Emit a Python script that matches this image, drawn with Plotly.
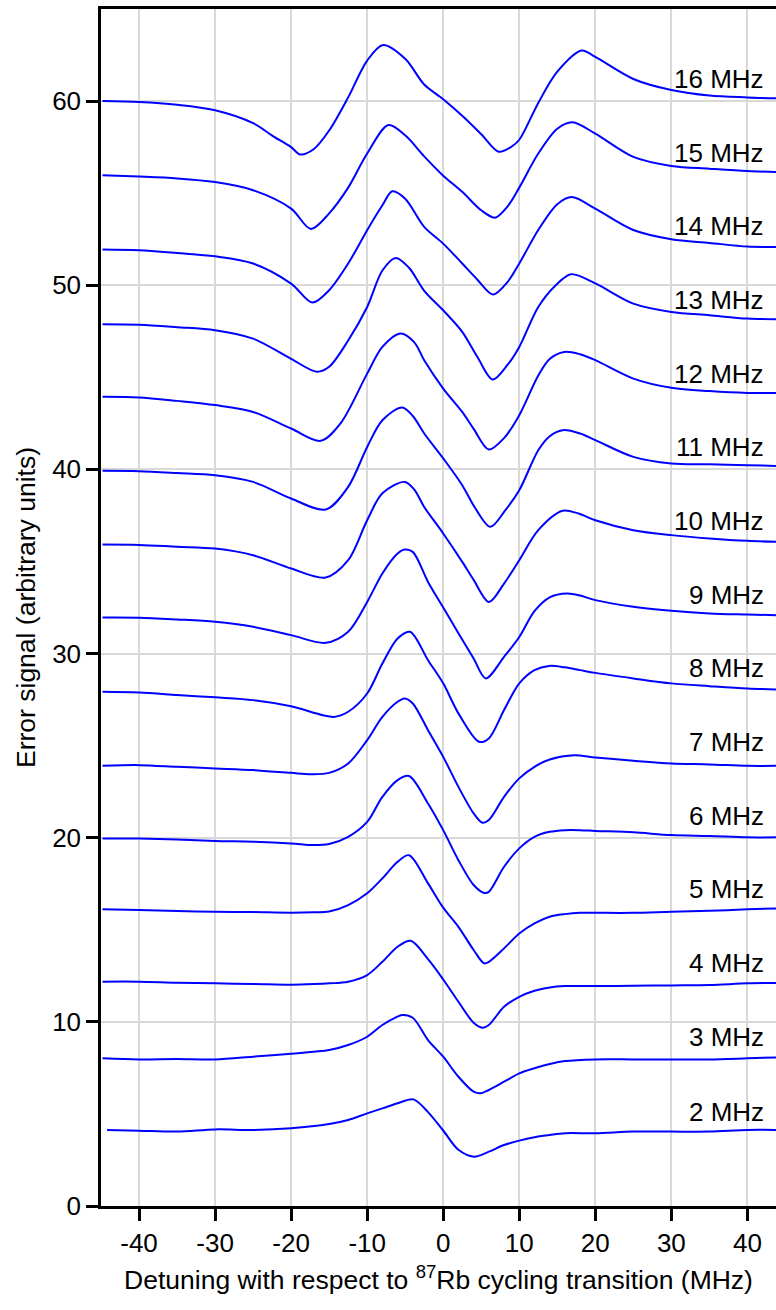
import plotly.graph_objects as go

# ---- data (detuning in MHz, error signal offset per trace) ----
labels = ["2 MHz", "3 MHz", "4 MHz", "5 MHz", "6 MHz", "7 MHz", "8 MHz", "9 MHz",
          "10 MHz", "11 MHz", "12 MHz", "13 MHz", "14 MHz", "15 MHz", "16 MHz"]
label_y = [5.1, 9.2, 13.2, 17.2, 21.2, 25.2, 29.2, 33.2, 37.2, 41.2, 45.2, 49.2, 53.2, 57.2, 61.2]

x2 = [-44.2, -40, -35, -30, -25, -20, -15, -12.5, -10, -8, -6, -3.92, -2, 0, 2, 4.05, 6, 8, 10, 12, 14, 16, 20, 25, 30, 35, 40, 43.8]
y2 = [4.13, 4.09, 4.04, 4.16, 4.13, 4.22, 4.45, 4.67, 5.03, 5.3, 5.58, 5.79, 5.1, 4.1, 3.05, 2.68, 2.95, 3.31, 3.55, 3.73, 3.85, 3.95, 3.95, 4.04, 4.04, 4.04, 4.13, 4.13]

x3 = [-44.8, -40, -35, -30, -25, -20, -15, -12.5, -10, -8, -6, -5.37, -4, -2, 0, 2, 4, 4.93, 6, 8, 10, 12, 14, 16, 20, 25, 30, 35, 40, 43.8]
y3 = [8.02, 7.96, 7.98, 7.96, 8.11, 8.27, 8.47, 8.74, 9.19, 9.83, 10.28, 10.37, 10.22, 9.01, 8.11, 7.02, 6.21, 6.12, 6.3, 6.75, 7.2, 7.48, 7.71, 7.87, 7.96, 7.96, 7.96, 7.96, 8.02, 8.07]

x4 = [-44.8, -40, -35, -30, -25, -20, -17, -15, -12.5, -10, -8, -6, -4.27, -2, 0, 2, 4, 5.15, 6, 8, 10, 12, 14, 16, 20, 25, 30, 35, 40, 43.8]
y4 = [12.18, 12.18, 12.12, 12.09, 12.06, 12.02, 12.05, 12.09, 12.18, 12.54, 13.26, 14.08, 14.4, 13.4, 12.3, 11.09, 9.95, 9.68, 9.83, 10.82, 11.36, 11.69, 11.87, 11.94, 11.94, 11.96, 11.98, 12.0, 12.09, 12.11]

x5 = [-44.8, -40, -35, -30, -25, -20, -17, -15, -12.5, -10, -8, -6, -4.5, -2, 0, 2, 4, 5.37, 6, 8, 10, 12, 14, 16, 18, 20, 25, 30, 35, 40, 43.8]
y5 = [16.11, 16.07, 16.02, 15.98, 15.96, 15.93, 15.95, 15.99, 16.34, 16.98, 17.79, 18.69, 19.05, 17.52, 16.2, 15.16, 13.9, 13.18, 13.26, 13.99, 14.8, 15.35, 15.71, 15.85, 15.92, 15.92, 15.92, 15.98, 16.03, 16.11, 16.16]

x6 = [-44.8, -40, -35, -30, -25, -20, -17, -15, -12.5, -10, -8, -6, -4.5, -2, 0, 2, 4, 5.37, 6, 8, 10, 12, 14, 16, 18, 20, 25, 30, 35, 40, 43.8]
y6 = [19.96, 19.95, 19.9, 19.82, 19.78, 19.69, 19.6, 19.66, 20.05, 20.86, 22.22, 23.13, 23.35, 21.86, 20.41, 18.78, 17.43, 17.0, 17.06, 18.42, 19.42, 20.05, 20.32, 20.41, 20.41, 20.37, 20.29, 20.14, 20.09, 20.02, 20.02]

x7 = [-44.8, -40, -35, -30, -25, -20, -17.4, -15, -12.5, -10, -8, -6, -5.06, -4, -2, 0, 2, 4, 5.15, 6, 8, 10, 12, 14, 17.2, 20, 25, 30, 35, 40, 43.8]
y7 = [23.9, 23.94, 23.85, 23.76, 23.67, 23.52, 23.45, 23.52, 24.03, 25.3, 26.56, 27.38, 27.56, 27.29, 25.84, 24.39, 22.76, 21.32, 20.81, 20.96, 22.22, 23.22, 23.85, 24.25, 24.48, 24.36, 24.18, 24.03, 23.98, 23.9, 23.9]

x8 = [-44.8, -40, -35, -30, -25, -20, -14.4, -12.5, -10, -8, -6, -4.37, -2, 0, 2, 4.7, 6, 8, 10, 12, 13.9, 16, 18, 20, 25, 30, 35, 40, 43.8]
y8 = [27.92, 27.88, 27.75, 27.62, 27.47, 27.14, 26.56, 26.84, 27.83, 29.46, 30.82, 31.18, 29.64, 28.38, 26.75, 25.21, 25.39, 26.93, 28.38, 29.1, 29.33, 29.25, 29.1, 28.95, 28.65, 28.38, 28.23, 28.1, 28.05]

x9 = [-44.8, -40, -35, -30, -25, -20, -15.45, -12.5, -10, -8, -6, -5.06, -4, -2, 0, 2, 4, 5.6, 8, 10, 12, 14, 16.3, 18, 20, 25, 30, 35, 40, 43.8]
y9 = [31.96, 31.95, 31.85, 31.72, 31.45, 31.0, 30.58, 31.18, 32.8, 34.35, 35.43, 35.65, 35.52, 33.89, 32.5, 31.1, 29.73, 28.65, 29.82, 30.9, 32.3, 33.05, 33.26, 33.15, 32.9, 32.54, 32.32, 32.18, 32.12, 32.08]

x10 = [-44.8, -40, -35, -30, -25, -20, -15.45, -12.5, -10, -8, -5.06, -3.8, -2.5, 0, 2.5, 4, 6, 8, 10, 12.5, 15.7, 17.8, 20, 25, 30, 35, 40, 43.8]
y10 = [35.92, 35.9, 35.8, 35.7, 35.34, 34.62, 34.13, 35.07, 37.24, 38.7, 39.32, 38.9, 37.96, 36.52, 34.98, 34.0, 32.8, 33.8, 35.07, 36.7, 37.75, 37.6, 37.24, 36.7, 36.43, 36.25, 36.12, 36.07]

x11 = [-44.8, -40, -35, -30, -25, -20, -15.45, -12.5, -10, -8, -5.4, -4, -2.5, 0, 2.5, 4.2, 6.2, 8.2, 10, 12.5, 14, 15.7, 18, 20, 25, 30, 35, 40, 43.8]
y11 = [39.92, 39.9, 39.8, 39.68, 39.32, 38.42, 37.82, 39.05, 41.22, 42.67, 43.36, 42.9, 41.95, 40.6, 39.14, 37.9, 36.88, 37.8, 38.87, 41.04, 41.8, 42.13, 41.95, 41.59, 40.68, 40.32, 40.28, 40.23, 40.19]

x12 = [-44.8, -40, -35, -30, -25, -20, -16.1, -13.5, -10, -8, -5.6, -3.8, -2.5, 0, 2.5, 4, 6, 8, 10, 12.5, 14, 15.9, 18, 20, 25, 30, 35, 40, 43.8]
y12 = [43.94, 43.91, 43.72, 43.49, 43.12, 42.22, 41.55, 42.5, 45.2, 46.65, 47.38, 46.9, 45.93, 44.39, 43.12, 42.2, 41.08, 41.7, 42.94, 45.1, 46.0, 46.38, 46.25, 45.93, 44.93, 44.43, 44.25, 44.15, 44.15]

x13 = [-44.8, -40, -35, -30, -25, -20, -16.6, -15, -12.5, -10, -8, -6.25, -4.5, -2.5, 0, 2.5, 4.5, 6.5, 8.5, 10, 12.5, 14.8, 16.8, 20, 25, 30, 35, 40, 43.8]
y13 = [47.88, 47.85, 47.72, 47.56, 47.1, 46.0, 45.3, 45.57, 47.0, 48.82, 50.8, 51.48, 50.95, 49.7, 48.64, 47.47, 46.1, 44.88, 45.7, 46.65, 48.82, 50.0, 50.6, 50.1, 49.0, 48.55, 48.37, 48.19, 48.15]

x14 = [-44.8, -40, -35, -30, -25, -20, -17.2, -15, -12.5, -10, -8, -6.7, -5, -2.5, 0, 2.5, 4.5, 6.55, 8.5, 10, 12.5, 15, 16.9, 20, 25, 30, 35, 40, 43.8]
y14 = [51.94, 51.9, 51.75, 51.57, 51.18, 50.09, 49.06, 49.73, 51.18, 52.99, 54.34, 55.1, 54.7, 53.17, 52.26, 51.18, 50.3, 49.5, 50.2, 51.18, 53.0, 54.4, 54.79, 54.16, 53.0, 52.5, 52.3, 52.1, 52.08]

x15 = [-44.8, -40, -35, -30, -25, -20, -17.4, -15, -12.5, -10, -7.2, -5, -2.5, 0, 2.5, 5, 6.8, 8.5, 10, 12.5, 15, 17.0, 20, 25, 30, 35, 40, 43.8]
y15 = [55.97, 55.9, 55.8, 55.6, 55.16, 54.16, 53.06, 53.9, 55.3, 57.15, 58.7, 58.14, 57.0, 55.95, 55.07, 54.07, 53.67, 54.3, 55.3, 57.15, 58.5, 58.85, 58.23, 56.97, 56.48, 56.33, 56.2, 56.15]

x16 = [-44.8, -40, -35, -30, -25, -22.4, -20, -18.8, -17, -15, -12.5, -10, -7.9, -5, -2.5, 0, 2.5, 5, 7.3, 8.9, 10, 12.5, 15, 18.2, 20, 25, 30, 35, 40, 43.8]
y16 = [60.0, 59.95, 59.8, 59.5, 58.8, 58.1, 57.5, 57.1, 57.4, 58.4, 60.2, 62.2, 63.05, 62.3, 60.9, 60.1, 59.2, 58.2, 57.25, 57.5, 57.9, 59.9, 61.6, 62.75, 62.4, 61.2, 60.6, 60.3, 60.2, 60.15]

x_ticks = [-40, -30, -20, -10, 0, 10, 20, 30, 40]
y_ticks = [0, 10, 20, 30, 40, 50, 60]

traces_x = [x2, x3, x4, x5, x6, x7, x8, x9, x10, x11, x12, x13, x14, x15, x16]
traces_y = [y2, y3, y4, y5, y6, y7, y8, y9, y10, y11, y12, y13, y14, y15, y16]

FONT = "Liberation Sans, Arial, Helvetica, sans-serif"
BLUE = "#0000ff"

fig = go.Figure()
for xs, ys in zip(traces_x, traces_y):
    fig.add_trace(go.Scatter(x=xs, y=ys, mode="lines",
                             line=dict(color=BLUE, width=2, shape="spline", smoothing=0.9),
                             showlegend=False, hoverinfo="skip"))

for lab, ly in zip(labels, label_y):
    fig.add_annotation(x=42.5, y=ly, xref="x", yref="y", text=lab, showarrow=False,
                       xanchor="right", yanchor="middle",
                       font=dict(family=FONT, size=26, color="black"))

axis_common = dict(
    ticks="outside", ticklen=12, tickwidth=2.5, tickcolor="black",
    showline=True, linecolor="black", linewidth=2.5,
    showgrid=True, gridcolor="#d9d9d9", gridwidth=2,
    zeroline=False, automargin=False,
    tickfont=dict(family=FONT, size=26, color="black"),
)

fig.update_xaxes(range=[-45, 43.76], tickvals=x_ticks, ticktext=[str(v) for v in x_ticks],
                 mirror=True,
                 title=dict(text="Detuning with respect to <sup>87</sup>Rb cycling transition (MHz)",
                            font=dict(family=FONT, size=26.5, color="black"), standoff=14),
                 **axis_common)
fig.update_yaxes(range=[0, 65], tickvals=y_ticks, ticktext=[str(v) for v in y_ticks],
                 mirror=False,
                 title=dict(text="Error signal (arbitrary units)",
                            font=dict(family=FONT, size=26.5, color="black"), standoff=9),
                 **axis_common)

fig.update_layout(
    width=776, height=1310,
    margin=dict(l=101, r=0, t=9, b=104, autoexpand=False),
    plot_bgcolor="white", paper_bgcolor="white",
    font=dict(family=FONT, size=26, color="black"),
)

fig.write_html("out.html")
